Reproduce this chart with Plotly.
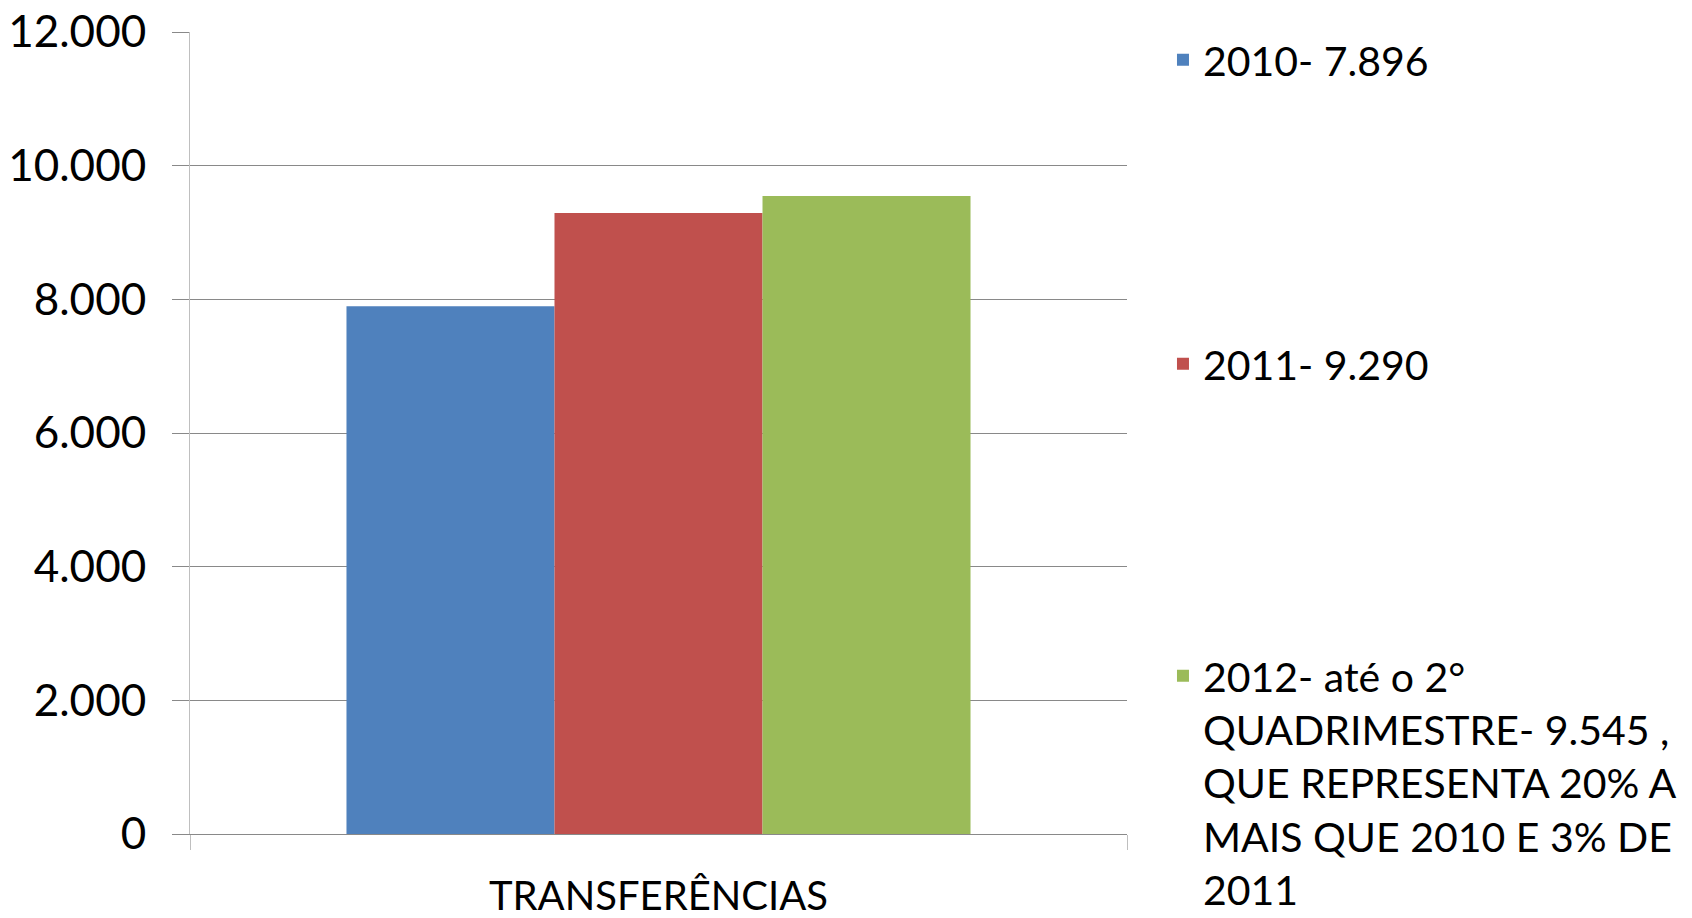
import plotly.graph_objects as go

categoria = ["TRANSFERÊNCIAS"]
series = ["2010- 7.896",
          "2011- 9.290",
          "2012- até o 2°<br>QUADRIMESTRE- 9.545 ,<br>QUE REPRESENTA 20% A<br>MAIS QUE 2010 E 3% DE<br>2011"]
valores = [7896, 9290, 9545]
cores = ["#4F81BD", "#C0504D", "#9BBB59"]

FONTE = "Lato"
fig = go.Figure()
for i, (nome, v, cor) in enumerate(zip(series, valores, cores)):
    fig.add_trace(go.Bar(x=categoria, y=[v], name=nome, marker_color=cor,
                         marker_line_width=0,
                         legend="legend" if i == 0 else "legend%d" % (i + 1)))

# the page body has an 8px margin, so the figure is shifted by 8px
leg = dict(font=dict(family=FONTE, size=41, color="#000000"),
           xanchor="left", yanchor="middle", x=1.0384, valign="top",
           bgcolor="rgba(0,0,0,0)", itemclick=False)
fig.update_layout(
    width=1692, height=918,
    margin=dict(l=182, r=573, t=24, b=92, autoexpand=False),
    paper_bgcolor="white", plot_bgcolor="white",
    font=dict(family=FONTE, size=42, color="#000000"),
    separators=",.",
    barmode="group", bargap=0.334, bargroupgap=0,
    showlegend=True,
    legend=dict(leg, y=0.965),
    legend2=dict(leg, y=0.586),
    legend3=dict(leg, y=0.064),
    xaxis=dict(showline=True, linecolor="#898989", linewidth=1,
               ticks="outside", tickson="boundaries", ticklen=15,
               tickcolor="#BFBFBF", showgrid=False,
               tickfont=dict(size=40), ticklabelstandoff=27),
    yaxis=dict(range=[0, 12000], dtick=2000, tickformat=",d",
               showline=True, linecolor="#BFBFBF", linewidth=1,
               ticks="outside", ticklen=17, tickcolor="#898989",
               showgrid=True, gridcolor="#898989", gridwidth=1,
               zeroline=False, tickfont=dict(size=44),
               ticklabelstandoff=17, ticklabeloverflow="allow"),
)

fig.write_html("out.html")
